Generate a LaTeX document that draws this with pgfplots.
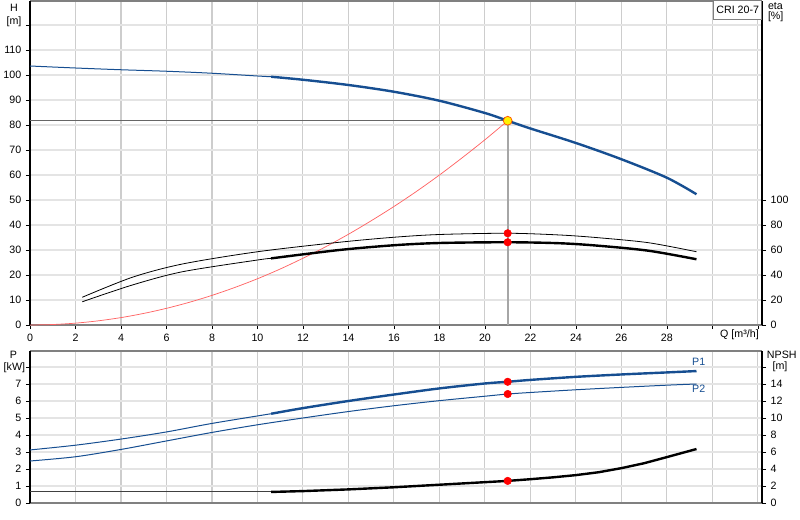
\documentclass[border=0pt]{standalone}
\usepackage{fontspec}
\setmainfont{Liberation Sans}
\usepackage{pgfplots}
\pgfplotsset{compat=1.18}
\definecolor{hblue}{RGB}{22,78,145}
\definecolor{gridv}{RGB}{205,205,205}
\definecolor{gridh}{RGB}{228,228,228}
\definecolor{axgray}{RGB}{128,128,128}
\definecolor{sysred}{RGB}{255,100,100}
\begin{document}
\begin{tikzpicture}[font=\fontsize{8}{9.6}\selectfont]
\useasboundingbox (0,0) rectangle (600pt,-390pt);
\pgfplotsset{
 base/.style={
  scale only axis, width=549pt, xmin=0, xmax=32.18,
  /pgf/number format/assume math mode=true,
  tick label style={font=\fontsize{8}{9.6}\selectfont},
  axis line style={draw=none},
  tick style={black, line width=0.6pt},
  major tick length=3pt,
  tick align=outside,
  clip=false,
 },
 gridded/.style={
  grid=major,
  major x grid style={gridv, line width=0.8pt},
  major y grid style={gridh, line width=1.4pt},
 }
}
% ---------------- top panel: H ----------------
\begin{axis}[base, gridded, at={(22.5pt,-243.75pt)}, anchor=south west, height=243pt,
 ymin=0, ymax=129.6,
 xtick={0,2,...,32}, xticklabels={0,2,4,6,8,10,12,14,16,18,20,22,24,26,28,{},{}},
 ytick={0,10,...,120}, yticklabels={0,10,20,30,40,50,60,70,80,90,100,110,{}},
 ytick pos=left, xtick pos=bottom]
\draw[axgray, line width=0.9pt] (rel axis cs:0,1) -- (rel axis cs:1,1);
\draw[axgray, line width=1.5pt] (rel axis cs:0,0) -- (rel axis cs:1,0);
\draw[black, line width=1.1pt] (rel axis cs:0,0) -- (rel axis cs:0,1);
\draw[black, line width=1.1pt] (rel axis cs:1,0) -- (rel axis cs:1,1);
\addplot[black!60, line width=0.75pt] coordinates {(0,81.7) (21,81.7)};
\addplot[black!35, line width=1.5pt] coordinates {(21,81.7) (21,0)};
\addplot[sysred, line width=0.55pt, smooth] coordinates {
 (0,0) (1,0.19) (2,0.74) (3,1.67) (4,2.96) (5,4.63) (6,6.67) (7,9.07) (8,11.85)
 (9,15.0) (10,18.5) (11,22.4) (12,26.7) (13,31.3) (14,36.3) (15,41.7) (16,47.4)
 (17,53.5) (18,60.0) (19,66.9) (20,74.1) (21,81.7)};
\addplot[hblue, line width=0.75pt, smooth] coordinates {
 (0,103.6) (2,102.8) (4,102.1) (6,101.5) (8,100.7) (10,99.6) (10.6,99.3)};
\addplot[hblue, line width=1.8pt, smooth] coordinates {
 (10.6,99.3) (12,98.1) (14,96.0) (16,93.3) (18,89.7) (20,84.8) (21,81.7)
 (22,78.6) (24,72.8) (26,66.3) (28,58.9) (29.3,52.3)};
\addplot[only marks, mark=*, mark size=3.3pt,
 mark options={fill=yellow, draw=orange!70!red, line width=0.6pt}] coordinates {(21,81.7)};
\end{axis}
% ---------------- top panel: eta ----------------
\begin{axis}[base, at={(22.5pt,-243.75pt)}, anchor=south west, height=243pt,
 ymin=0, ymax=259.2, axis y line*=right, xtick=\empty,
 ytick={0,20,...,100}]
\addplot[black, line width=0.6pt, smooth] coordinates {
 (2.3,22.2) (4.5,38.2) (6.7,48.8) (10,58.6) (13.6,66.2) (16,70.2) (18,72.4)
 (21,73.4) (23.3,72.0) (25,69.8) (27.2,65.8) (29.3,58.6)};
\addplot[black, line width=0.6pt, smooth] coordinates {
 (2.3,18.6) (4.5,32.0) (6.7,42.6) (10,52.0) (10.6,53.3)};
\addplot[black, line width=1.8pt, smooth] coordinates {
 (10.6,53.3) (13.6,60.0) (16,63.8) (18,65.6) (21,66.2) (23.3,65.4) (25,63.4)
 (27.2,59.4) (29.3,52.6)};
\addplot[only marks, mark=*, mark size=2.8pt, mark options={fill=red, draw=red}]
 coordinates {(21,73.4) (21,66.2)};
\end{axis}
% ---------------- bottom panel: P ----------------
\begin{axis}[base, gridded, at={(22.5pt,-377.25pt)}, anchor=south west, height=114pt,
 ymin=0, ymax=8.94,
 xtick={0,2,...,32}, xticklabels={}, xtick style={draw=none},
 ytick={0,1,...,8}, yticklabels={0,1,2,3,4,5,6,7,{}},
 ytick pos=left, xtick pos=bottom]
\draw[axgray, line width=0.9pt] (rel axis cs:0,1) -- (rel axis cs:1,1);
\draw[axgray, line width=1.5pt] (rel axis cs:0,0) -- (rel axis cs:1,0);
\draw[black, line width=1.1pt] (rel axis cs:0,0) -- (rel axis cs:0,1);
\draw[black, line width=1.1pt] (rel axis cs:1,0) -- (rel axis cs:1,1);
\addplot[hblue, line width=0.75pt, smooth] coordinates {
 (0,3.12) (2,3.4) (4,3.76) (6,4.18) (8,4.68) (10.6,5.25)};
\addplot[hblue, line width=1.8pt, smooth] coordinates {
 (10.6,5.25) (12,5.58) (14,6.0) (16,6.38) (18,6.74) (20,7.03) (21,7.13) (22,7.24)
 (24,7.42) (26,7.56) (28,7.68) (29.3,7.76)};
\addplot[hblue, line width=0.75pt, smooth] coordinates {
 (0,2.47) (2,2.72) (4,3.15) (6,3.65) (8,4.15) (10,4.6) (12,5.0) (14,5.38) (16,5.72)
 (18,6.02) (20,6.28) (21,6.41) (22,6.5) (24,6.66) (26,6.8) (28,6.93) (29.3,7.0)};
\addplot[only marks, mark=*, mark size=2.8pt, mark options={fill=red, draw=red}]
 coordinates {(21,7.13) (21,6.41)};
\node[hblue, anchor=center] at (axis cs:29.4,8.3) {P1};
\node[hblue, anchor=center] at (axis cs:29.4,6.7) {P2};
\end{axis}
% ---------------- bottom panel: NPSH ----------------
\begin{axis}[base, at={(22.5pt,-377.25pt)}, anchor=south west, height=114pt,
 ymin=0, ymax=17.88, axis y line*=right, xtick=\empty,
 ytick={0,2,...,16}, yticklabels={0,2,4,6,8,10,12,14,{}}]
\addplot[black!75, line width=0.75pt] coordinates {(0,1.3) (10.6,1.3)};
\addplot[black, line width=1.8pt] coordinates {
 (10.6,1.3) (12,1.4) (14,1.6) (16,1.85) (18,2.15) (20,2.45) (21,2.6) (22,2.8)
 (23,3.02) (24,3.28) (25,3.62) (26,4.1) (27,4.68) (28,5.4) (29.3,6.35)};
\addplot[only marks, mark=*, mark size=2.8pt, mark options={fill=red, draw=red}]
 coordinates {(21,2.6)};
\end{axis}
% ---------------- labels ----------------
\node at (10.5pt,-6pt) {H};
\node at (10.5pt,-16.5pt) {[m]};
\node[anchor=west, inner sep=0pt] at (575.8pt,-4.5pt) {eta};
\node[anchor=west, inner sep=0pt] at (575.8pt,-12.75pt) {[\%]};
\node[draw=axgray, fill=white, line width=0.6pt, minimum width=35.8pt, minimum height=14pt,
 anchor=north east, inner sep=0pt] at (571.5pt,-0.3pt) {CRI 20-7};
\node at (554.6pt,-250.7pt) {Q [m³/h]};
\node at (10pt,-266.25pt) {P};
\node[anchor=east, inner sep=0pt] at (19pt,-275.5pt) {[kW]};
\node[anchor=west, inner sep=0pt] at (575pt,-266.25pt) {NPSH};
\node at (585pt,-275pt) {[m]};
\end{tikzpicture}
\end{document}
